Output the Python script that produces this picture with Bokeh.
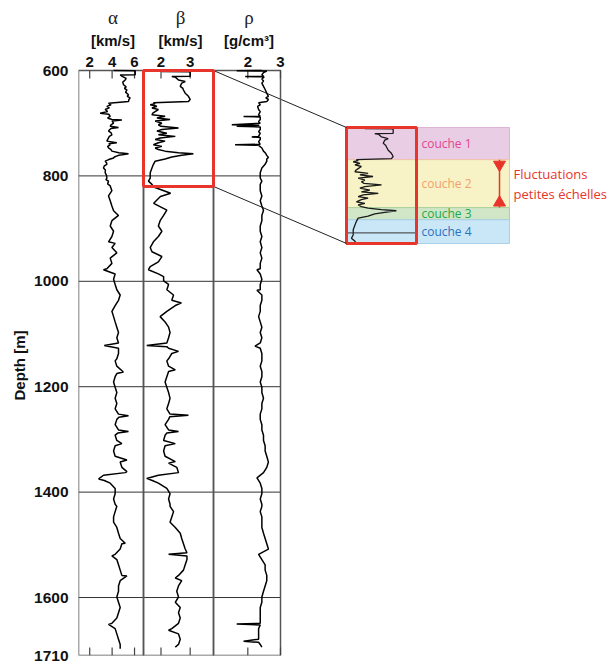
from bokeh.plotting import figure
from bokeh.models import Range1d, FixedTicker, ColumnDataSource, Title
from bokeh.core.properties import value
from bokeh.embed import file_html
from bokeh.resources import INLINE

# ---------------- data: (depth m, value) ----------------
alpha_log = [(600, 4.13), (600.5, 6.06), (608, 6.06), (608.5, 4.72), (611, 4.9), (615, 5.25), (618, 5.17),
             (622, 4.95), (627, 5.02), (631, 5.25), (634, 5.1), (637, 5.32), (641, 5.2), (646, 5.46), (649, 5.35),
             (652, 5.61), (655, 5.5), (659, 5.46), (661, 4.2), (662, 3.68), (665, 3.9), (668, 3.53), (671, 3.75),
             (674, 3.38), (678, 3.6), (681, 2.93), (683, 3.7), (687, 3.83), (690, 3.6), (693, 3.98), (694, 4.87),
             (696, 4.0), (700, 4.13), (703, 3.9), (706, 3.83), (708, 4.57), (710, 3.9), (713, 3.75), (715, 3.68),
             (718, 3.9), (722, 3.98), (725, 3.75), (728, 3.68), (731, 3.6), (734, 3.53), (737, 4.42), (739, 3.7),
             (741, 3.83), (744, 3.6), (747, 3.68), (750, 3.9), (753, 3.98), (756, 4.6), (758, 5.46), (760, 4.9),
             (761, 4.57), (764, 4.2), (766, 4.13), (769, 3.7), (772, 3.38), (775, 3.5), (778, 3.53), (781, 3.3),
             (785, 3.23), (789, 3.4), (794, 3.38), (799, 3.5), (804, 3.53), (807, 3.45), (810, 3.68), (815, 3.6),
             (819, 3.83), (828, 3.98), (838, 3.68), (847, 3.83), (857, 3.98), (866, 4.13), (875, 4.57), (885, 3.98),
             (895, 3.83), (905, 4.13), (915, 3.98), (925, 3.68), (928, 4.27), (936, 3.98), (946, 4.42), (956, 3.83),
             (966, 3.98), (976, 3.53), (978, 3.23), (986, 4.27), (996, 4.13), (1006, 4.27), (1016, 4.42),
             (1026, 4.72), (1036, 4.57), (1046, 4.27), (1057, 3.98), (1067, 4.13), (1077, 4.27), (1087, 4.42),
             (1097, 4.57), (1107, 4.42), (1117, 4.57), (1122, 3.3), (1127, 4.57), (1137, 4.57), (1147, 4.42),
             (1151, 4.27), (1161, 4.42), (1172, 5.0), (1175, 4.42), (1181, 4.27), (1191, 4.13), (1201, 4.27),
             (1211, 4.42), (1222, 4.27), (1232, 4.42), (1242, 4.27), (1252, 4.57), (1255, 5.46), (1258, 4.6),
             (1262, 4.42), (1272, 4.27), (1282, 4.57), (1285, 5.46), (1288, 4.5), (1292, 4.27), (1302, 4.42),
             (1308, 4.87), (1312, 4.27), (1322, 4.13), (1332, 4.27), (1339, 5.32), (1343, 4.72), (1353, 4.87),
             (1361, 5.32), (1363, 5.17), (1368, 3.23), (1375, 2.8), (1378, 3.3), (1383, 3.83), (1393, 4.27),
             (1403, 4.27), (1413, 4.13), (1423, 4.27), (1427, 4.42), (1437, 4.27), (1447, 4.13), (1457, 4.13),
             (1467, 4.42), (1478, 4.57), (1488, 4.72), (1497, 5.17), (1498, 4.87), (1508, 4.72), (1518, 4.27),
             (1521, 3.98), (1528, 4.42), (1538, 4.57), (1548, 4.72), (1558, 4.87), (1559, 5.32), (1568, 4.72),
             (1578, 4.57), (1588, 4.57), (1599, 4.42), (1609, 4.57), (1619, 4.72), (1629, 4.57), (1639, 4.42),
             (1649, 3.98), (1651, 3.68), (1659, 4.27), (1669, 4.42), (1679, 4.57), (1689, 4.72), (1697, 4.72)]

beta_log = [(600, 2.03), (602, 2.03), (602.5, 3.0), (611, 3.0), (611.5, 2.37), (613, 2.5), (618, 2.6), (621, 2.83),
            (624, 2.71), (630, 2.66), (634, 2.75), (637, 2.77), (643, 2.83), (649, 2.94), (655, 3.0), (659, 2.94),
            (661, 1.74), (663, 1.8), (665, 1.63), (668, 1.86), (671, 1.69), (674, 1.91), (678, 1.8), (681, 1.72),
            (684, 1.69), (687, 2.14), (690, 1.86), (693, 2.31), (696, 1.8), (700, 2.03), (703, 1.91), (706, 2.0),
            (709, 2.6), (712, 2.03), (715, 1.86), (719, 2.2), (722, 1.91), (725, 2.49), (728, 1.97), (731, 1.8),
            (734, 2.14), (737, 1.91), (741, 1.74), (744, 2.03), (747, 1.8), (750, 1.91), (753, 2.14), (756, 2.6),
            (758, 3.11), (761, 2.71), (764, 2.37), (768, 2.14), (772, 1.8), (778, 1.74), (785, 1.69), (794, 1.63),
            (804, 1.63), (810, 1.57), (816, 1.69), (821, 1.75), (833, 2.33), (839, 1.98), (852, 1.75), (865, 2.2),
            (875, 2.09), (885, 1.97), (895, 1.91), (905, 2.03), (915, 1.91), (925, 1.74), (936, 1.63), (944, 1.69),
            (953, 2.03), (963, 1.91), (972, 1.63), (978, 1.57), (986, 1.91), (991, 2.09), (999, 2.09), (1006, 2.26),
            (1016, 2.2), (1026, 2.43), (1036, 2.37), (1041, 2.7), (1046, 2.49), (1057, 2.2), (1067, 1.97),
            (1077, 2.14), (1087, 2.26), (1097, 2.31), (1107, 2.26), (1117, 2.2), (1122, 1.51), (1124, 2.2),
            (1127, 2.26), (1133, 2.6), (1137, 2.37), (1147, 2.26), (1151, 2.2), (1161, 2.26), (1168, 2.49),
            (1171, 2.26), (1181, 2.2), (1191, 2.14), (1201, 2.2), (1211, 2.26), (1222, 2.31), (1232, 2.26),
            (1242, 2.2), (1252, 2.31), (1254, 2.94), (1257, 2.3), (1262, 2.26), (1272, 2.14), (1282, 2.26),
            (1285, 2.6), (1288, 2.2), (1292, 2.14), (1302, 2.09), (1308, 2.49), (1312, 2.14), (1322, 2.09),
            (1332, 2.14), (1342, 2.49), (1345, 2.26), (1353, 2.54), (1363, 2.6), (1368, 1.91), (1374, 1.51),
            (1378, 1.7), (1383, 1.91), (1393, 2.2), (1403, 2.31), (1413, 2.26), (1423, 2.31), (1427, 2.31),
            (1437, 2.43), (1447, 2.37), (1457, 2.31), (1467, 2.49), (1478, 2.66), (1488, 2.71), (1498, 2.77),
            (1508, 2.83), (1515, 2.89), (1518, 2.26), (1521, 2.89), (1528, 2.89), (1538, 2.83), (1548, 2.77),
            (1558, 2.6), (1563, 2.49), (1568, 2.71), (1578, 2.6), (1588, 2.54), (1599, 2.6), (1609, 2.49),
            (1619, 2.66), (1629, 2.6), (1639, 2.66), (1649, 2.6), (1659, 2.37), (1662, 2.26), (1669, 2.6),
            (1679, 2.66), (1689, 2.6), (1694, 2.49)]

rho_log = [(600, 2.43), (600.5, 1.66), (601, 2.58), (604, 2.48), (608, 2.43), (611, 2.48), (611.5, 1.92),
           (612, 2.5), (616, 2.43), (620, 2.48), (624, 2.43), (630, 2.48), (636, 2.53), (643, 2.58), (649, 2.63),
           (652, 2.55), (655, 2.63), (659, 2.58), (661, 2.33), (665, 2.38), (668, 2.3), (674, 2.33), (678, 2.38),
           (684, 2.33), (687, 2.38), (687.5, 1.87), (688, 2.38), (693, 2.38), (697, 2.33), (700, 2.38), (703, 1.51),
           (704, 2.35), (706, 1.66), (707, 2.38), (712, 2.38), (716, 2.33), (719, 2.38), (725, 2.33), (726, 2.12),
           (727, 2.38), (731, 2.38), (735, 2.33), (740, 2.38), (741, 1.61), (742, 2.33), (747, 2.43), (753, 2.48),
           (756, 2.53), (761, 2.58), (765, 2.63), (768, 2.58), (772, 2.58), (778, 2.53), (785, 2.43), (794, 2.38),
           (804, 2.38), (810, 2.43), (816, 2.38), (819, 2.38), (828, 2.38), (838, 2.43), (847, 2.38), (857, 2.43),
           (865, 2.48), (875, 2.43), (885, 2.43), (895, 2.38), (905, 2.38), (915, 2.43), (925, 2.38), (936, 2.43),
           (946, 2.38), (956, 2.43), (966, 2.38), (976, 2.38), (978, 2.28), (986, 2.38), (996, 2.43), (1006, 2.38),
           (1016, 2.38), (1017, 2.28), (1026, 2.43), (1036, 2.43), (1046, 2.38), (1057, 2.38), (1067, 2.33),
           (1077, 2.38), (1087, 2.43), (1097, 2.38), (1107, 2.43), (1117, 2.38), (1123, 2.22), (1127, 2.38),
           (1137, 2.43), (1147, 2.43), (1151, 2.43), (1161, 2.38), (1171, 2.43), (1181, 2.43), (1191, 2.38),
           (1201, 2.43), (1211, 2.43), (1222, 2.48), (1232, 2.43), (1242, 2.43), (1252, 2.38), (1262, 2.38),
           (1272, 2.43), (1282, 2.43), (1292, 2.48), (1302, 2.48), (1312, 2.53), (1322, 2.53), (1332, 2.58),
           (1343, 2.63), (1353, 2.58), (1363, 2.48), (1373, 2.28), (1383, 2.38), (1393, 2.43), (1403, 2.43),
           (1413, 2.38), (1423, 2.43), (1427, 2.43), (1437, 2.38), (1447, 2.43), (1457, 2.43), (1467, 2.43),
           (1478, 2.48), (1488, 2.53), (1498, 2.58), (1508, 2.63), (1518, 2.33), (1528, 2.43), (1538, 2.53),
           (1548, 2.53), (1558, 2.58), (1568, 2.58), (1578, 2.53), (1588, 2.48), (1599, 2.43), (1609, 2.43),
           (1619, 2.38), (1629, 2.38), (1639, 2.38), (1649, 2.38), (1650, 1.66), (1652, 2.38), (1659, 2.33),
           (1669, 2.33), (1679, 2.33), (1683, 1.87), (1685, 2.33), (1689, 2.38), (1694, 2.43)]

depth_ticks = [600, 800, 1000, 1200, 1400, 1600, 1710]
grid_depths = [800, 1000, 1200, 1400, 1600]
alpha_ticks = [2, 4, 6]
beta_ticks = [2, 3]
rho_ticks = [2, 3]
track_names = ["alpha", "beta", "rho"]
track_symbols = ["\u03b1", "\u03b2", "\u03c1"]
track_units = ["[km/s]", "[km/s]", "[g/cm\u00b3]"]

zoom_top, zoom_bottom = 600, 820
layer_names = ["couche 1", "couche 2", "couche 3", "couche 4"]
layer_top = [600, 661, 752, 775]
layer_bottom = [661, 752, 775, 820]
fluct_text = ["Fluctuations", "petites \u00e9chelles"]

alpha_depth, alpha_vals = [list(t) for t in zip(*alpha_log)]
beta_depth, beta_vals = [list(t) for t in zip(*beta_log)]
rho_depth, rho_vals = [list(t) for t in zip(*rho_log)]

# ---------------- layout geometry (pixels) ----------------
W, H = 612, 663
BL, BB, BR = 78, 8, 0
TRACK_TOP_PX = 70                 # distance of depth 600 below the frame top
FW = W - BL - BR
FH = H - BB
DMIN, DMAX = 600, 1710
pxpm = (FH - TRACK_TOP_PX) / (DMAX - DMIN)
DTOP = DMIN - TRACK_TOP_PX / pxpm

# (domain min, domain max, px left, px right) relative to frame left
TRACKS = {"alpha": (1.0, 6.8, 0, 65), "beta": (1.4, 3.8, 65, 135), "rho": (0.95, 3.0, 135, 202)}
INSET_DX = 203
INSET_DY = 57
BAND_RIGHT = 431
LAYER_TEXT_X = 368
ARROW_X = 421
FLUCT_X = 435
RED = "#e8352b"


def x_range_for(dmin, dmax, p0, p1):
    u = (dmax - dmin) / (p1 - p0)
    s = dmin - p0 * u
    return Range1d(s, s + FW * u)


def above(px):
    """depth value lying px pixels above depth 600 (header rows)"""
    return DMIN - px / pxpm


shift_m = INSET_DY / pxpm

p = figure(width=W, height=H, output_backend="svg", toolbar_location=None,
           x_range=Range1d(0, FW), y_range=Range1d(DMAX, DTOP),
           x_axis_location=None, min_border_left=BL, min_border_right=BR,
           min_border_top=0, min_border_bottom=BB)
p.outline_line_color = None
p.xgrid.visible = False
p.ygrid.visible = False

for name, (a, b, p0, p1) in TRACKS.items():
    p.extra_x_ranges[name] = x_range_for(a, b, p0, p1)
ba, bb, bp0, bp1 = TRACKS["beta"]
p.extra_x_ranges["beta_in"] = x_range_for(ba, bb, bp0 + INSET_DX, bp1 + INSET_DX)
p.extra_y_ranges["inset"] = Range1d(DMAX - shift_m, DTOP - shift_m)

yax = p.yaxis[0]
yax.ticker = FixedTicker(ticks=depth_ticks)
yax.major_label_text_font = "Liberation Sans"
yax.major_label_text_font_style = "bold"
yax.major_label_text_font_size = "15.5px"
yax.major_label_text_color = "#111111"
yax.major_label_standoff = 10
yax.major_tick_out = 0
yax.major_tick_in = 0
yax.minor_tick_out = 0
yax.minor_tick_in = 0
yax.axis_line_color = None
yax.major_tick_line_color = None
yax.minor_tick_line_color = None

p.add_layout(Title(text="Depth [m]", align="left", offset=255, standoff=8,
                   text_font="Liberation Sans", text_font_style="bold", text_font_size="15px",
                   text_color="#111111"), "left")

# ---------------- inset (drawn first, behind) ----------------
band_fill = ["#e9cde5", "#f7f3c6", "#d0e6c7", "#cae7f7"]
band_line = ["#deb3d5", "#f0c4a8", "#a8d39c", "#a9cfe9"]
text_cols = ["#e2468e", "#f3a06c", "#22a94a", "#2b72c0"]
band_src = ColumnDataSource(dict(top=layer_top, bottom=layer_bottom, fill=band_fill, line=band_line,
                                 name=layer_names, tcol=text_cols,
                                 mid=[(t + b) / 2 for t, b in zip(layer_top, layer_bottom)]))
p.quad(left=bp0 + INSET_DX, right=BAND_RIGHT, top="top", bottom="bottom", source=band_src,
       fill_color="fill", line_color="line", line_width=1, y_range_name="inset")
p.text(x=LAYER_TEXT_X, y="mid", text="name", source=band_src, y_range_name="inset",
       text_color="tcol", text_align="center", text_baseline="middle",
       text_font=value("Open Sans"), text_font_size="12px")

ins = [(d, v) for d, v in beta_log if d <= zoom_bottom + 1]
p.line([v for d, v in ins], [d for d, v in ins], x_range_name="beta_in", y_range_name="inset",
       line_color="#1a1a1a", line_width=1.3)
inset_grid = [g for g in grid_depths if zoom_top <= g <= zoom_bottom]
p.segment(x0=[ba] * len(inset_grid), x1=[bb] * len(inset_grid), y0=inset_grid, y1=inset_grid,
          x_range_name="beta_in", y_range_name="inset", line_color="#333333", line_width=1)
p.quad(left=[ba], right=[bb], top=[zoom_top], bottom=[zoom_bottom], x_range_name="beta_in",
       y_range_name="inset", fill_color=None, line_color=RED, line_width=3)

# arrow for couche 2
p.segment(x0=[ARROW_X], x1=[ARROW_X], y0=[layer_top[1]], y1=[layer_bottom[1]], y_range_name="inset",
          line_color=RED, line_width=1.5)
p.scatter([ARROW_X], [layer_top[1] + 5 / pxpm], marker="inverted_triangle", size=12, y_range_name="inset",
          fill_color=RED, line_color=RED)
p.scatter([ARROW_X], [layer_bottom[1] - 5 / pxpm], marker="triangle", size=12, y_range_name="inset",
          fill_color=RED, line_color=RED)
mid2 = (layer_top[1] + layer_bottom[1]) / 2
p.text(x=[FLUCT_X] * 2, y=[mid2] * 2, text=fluct_text, y_offset=[-10, 10], y_range_name="inset",
       text_color=RED, text_align="left", text_baseline="middle",
       text_font=value("Open Sans"), text_font_size="13px")

# connectors
p.segment(x0=[bp1, bp1], y0=[zoom_top, zoom_bottom], x1=[bp0 + INSET_DX] * 2,
          y1=[zoom_top + shift_m, zoom_bottom + shift_m], line_color="#222222", line_width=1)

# ---------------- main tracks ----------------
lefts = [TRACKS[n][2] for n in track_names]
rights = [TRACKS[n][3] for n in track_names]
p.segment(x0=[lefts[0]] * len(grid_depths), x1=[rights[-1]] * len(grid_depths), y0=grid_depths, y1=grid_depths,
          line_color="#333333", line_width=1)
p.quad(left=lefts, right=rights, top=[DMIN] * 3, bottom=[DMAX] * 3, fill_color=None,
       line_color="#555555", line_width=1.5)

tick_len = 8 / pxpm
for name, ticks in zip(track_names, [alpha_ticks, beta_ticks, rho_ticks]):
    n = len(ticks)
    p.segment(x0=ticks, x1=ticks, y0=[DMAX] * n, y1=[DMAX - tick_len] * n, x_range_name=name,
              line_color="#444444", line_width=1.2)
    p.segment(x0=ticks, x1=ticks, y0=[DMIN] * n, y1=[DMIN + tick_len] * n, x_range_name=name,
              line_color="#444444", line_width=1.2)

p.line(alpha_vals, alpha_depth, x_range_name="alpha", line_color="black", line_width=1.5)
p.line(beta_vals, beta_depth, x_range_name="beta", line_color="black", line_width=1.5)
p.line(rho_vals, rho_depth, x_range_name="rho", line_color="black", line_width=1.5)

p.quad(left=[ba], right=[bb], top=[zoom_top], bottom=[zoom_bottom], x_range_name="beta",
       fill_color=None, line_color=RED, line_width=3)

# ---------------- headers ----------------
hdr_x = [(TRACKS[n][2] + TRACKS[n][3]) / 2 + 2 for n in track_names]
p.text(x=hdr_x, y=[above(53)] * 3, text=track_symbols, text_align="center", text_baseline="middle",
       text_font=value("Liberation Serif"), text_font_size="19px", text_color="#222222")
p.text(x=hdr_x, y=[above(30)] * 3, text=track_units, text_align="center", text_baseline="middle",
       text_font=value("Liberation Sans"), text_font_style="bold", text_font_size="15px", text_color="#111111")
for name, ticks in zip(track_names, [alpha_ticks, beta_ticks, rho_ticks]):
    p.text(x=ticks, y=[above(9)] * len(ticks), text=[str(t) for t in ticks], x_range_name=name,
           text_align="center", text_baseline="middle", text_font=value("Liberation Sans"),
           text_font_style="bold", text_font_size="15px", text_color="#111111")

open("out.html", "w").write(file_html(p, INLINE))
